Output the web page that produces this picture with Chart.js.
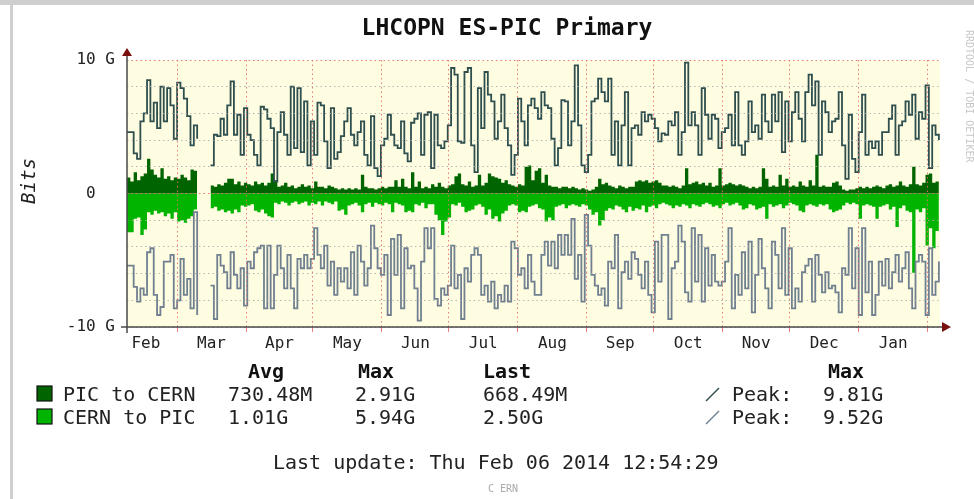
<!DOCTYPE html>
<html>
<head>
<meta charset="utf-8">
<script src="https://cdn.jsdelivr.net/npm/chart.js@4.4.0/dist/chart.umd.min.js"></script>
<style>
  html, body { margin: 0; padding: 0; background: #fff; }
  canvas { display: block; }
</style>
</head>
<body>
<canvas id="rrdChart" width="974" height="499"></canvas>
<script>
// Sampling step of the series, in days from Feb 6 2013 12:54
var STEP = 1.5;

// Month labels of the x axis and the month starts they belong to
var monthLabels = ['Feb', 'Mar', 'Apr', 'May', 'Jun', 'Jul', 'Aug', 'Sep', 'Oct', 'Nov', 'Dec', 'Jan'];
var monthStarts = ['2013-02-01', '2013-03-01', '2013-04-01', '2013-05-01', '2013-06-01', '2013-07-01',
                   '2013-08-01', '2013-09-01', '2013-10-01', '2013-11-01', '2013-12-01', '2014-01-01', '2014-02-01'];

// y tick labels (in G)
var yTickLabels = { '10': '10 G', '0': '0  ', '-10': '-10 G' };

// PIC to CERN, peak (G)
var picPeak = [
  4.6, 4.6, 3.0, 2.6, 5.4, 6.0, 8.5, 5.4, 6.8, 4.9,
  8.0, 5.4, 7.9, 6.6, 4.1, 8.3, 7.9, 7.1, 5.8, 3.6,
  5.1, 4.1, null, 2.95, null, 2.1, 4.4, 4.3, 5.6, 4.4,
  6.6, 8.4, 4.4, 5.9, 2.9, 6.4, 4.4, 4.0, 2.9, 2.1,
  6.5, 6.3, 5.6, 4.9, 0.9, 4.6, 6.1, 4.4, 2.9, 8.0,
  3.4, 7.9, 3.1, 6.9, 2.1, 5.4, 2.9, 6.8, 6.6, 3.9,
  1.9, 6.4, 2.6,
  3.1, 4.3, 5.4, 6.4, 4.4, 3.6, 4.6, 5.4, 2.9, 2.1,
  5.8, 1.9, 1.3, 3.6, 4.1, 5.9, 4.4, 3.6, 3.4, 5.4,
  3.0, 2.4, 5.3, 5.6, 6.0, 2.9, 5.9, 6.1, 1.9, 5.9,
  3.6, 3.4, 3.9, 5.1, 9.4, 8.9, 3.9, 3.8, 9.1, 9.4,
  3.6, 1.6, 7.9, 4.9, 9.1, 7.4, 6.9, 4.1, 5.4, 7.4,
  4.9, 3.6, 1.4, 2.9, 7.1, 5.4, 3.6, 6.6, 7.1, 6.4,
  5.6, 7.6, 6.6, 6.4, 4.1, 2.1, 3.4, 7.0, 6.9, 3.6,
  5.4, 9.6, 5.1, 2.1, 1.6, 2.9, 6.9, 7.1, 8.6, 7.6,
  6.9, 8.6, 2.9, 5.4, 2.1, 5.1, 7.6, 2.1, 4.9, 5.1,
  4.4, 6.1, 5.4, 5.9, 5.6, 4.9, 3.9, 4.5, 4.4, 5.4,
  5.1, 6.1, 2.9, 4.6, 9.81, 5.1, 6.1, 5.1, 2.9, 7.9,
  5.9, 4.1, 5.9, 5.6, 3.4, 4.6, 4.9, 5.9, 3.6, 7.6, 3.6,
  2.9, 3.9, 6.9, 4.6, 5.1, 4.1, 7.4, 5.4, 4.6, 7.4,
  5.4, 7.6, 3.1, 6.9, 3.9, 6.1, 7.6, 5.6, 3.9, 7.6,
  8.9, 6.6, 8.4, 2.9, 6.9, 6.1, 4.6, 5.4, 5.6, 7.6,
  3.6, 1.1, 5.9, 2.6, 1.6, 4.6, 7.4, 2.9, 3.9, 3.4,
  3.9, 2.9, 4.6, 4.6, 5.6, 6.6, 2.9, 5.1, 5.4, 6.9,
  5.9, 7.4, 4.1, 6.1, 5.6, 8.1, 1.9, 5.1, 4.4, 4.0
];

// CERN to PIC, peak (G, drawn below zero)
var cernPeak = [
  -5.4, -5.4, -7.0, -8.1, -7.1, -7.6, -4.4, -4.1, -7.6, -9.1,
  -8.5, -5.1, -5.1, -4.6, -8.6, -8.0, -4.9, -7.6, -6.4, -8.6,
  -1.4, -9.1, null, -4.7, null, -6.9, -9.4, -4.6, -5.4, -5.9,
  -7.1, -4.4, -6.1, -7.1, -5.6, -8.4, -5.1, -5.6, -4.4, -4.1,
  -3.9, -8.6, -3.9, -8.6, -6.1, -3.9, -5.6, -7.1, -4.6, -7.1,
  -8.6, -4.9, -5.6, -4.6, -5.6, -4.9, -2.6, -4.6, -5.6, -3.9,
  -6.9, -5.1, -7.6,
  -5.6, -6.6, -5.6, -7.1, -4.4, -7.6, -3.9, -5.1, -6.9, -5.6,
  -2.4, -4.1, -5.6, -6.1, -4.6, -9.1, -3.4, -6.1, -3.1, -8.6,
  -4.1, -5.6, -5.4, -7.1, -9.52, -5.1, -2.6, -4.1, -2.6, -7.9,
  -8.4, -7.1, -7.6, -6.9, -3.9, -7.1, -6.1, -9.4, -5.6, -6.6,
  -4.6, -4.1, -4.6, -7.6, -6.9, -8.1, -6.6, -8.6, -7.6, -8.1,
  -6.9, -8.1, -3.6, -4.1, -6.1, -5.6, -7.1, -4.6, -6.6, -7.6,
  -7.6, -4.6, -3.6, -5.4, -3.6, -5.6, -3.1, -4.6, -3.1, -4.6,
  -1.9, -6.4, -4.6, -8.1, -1.6, -3.9, -6.1, -6.9, -7.6, -7.1,
  -8.4, -5.1, -5.6, -3.1, -8.6, -5.9, -5.1, -6.4, -4.4, -4.9,
  -6.1, -7.1, -5.1, -7.6, -8.9, -3.6, -6.6, -3.1, -3.1, -9.4,
  -5.6, -5.1, -2.4, -3.6, -7.4, -8.1, -2.6, -6.6, -3.1, -8.1,
  -4.1, -6.9, -4.6, -6.6, -6.9, -6.6, -5.1, -2.6, -8.6, -6.1, -7.6,
  -4.4, -7.1, -3.6, -8.9, -6.1, -3.4, -5.6, -7.1, -8.6, -3.6,
  -4.6, -7.1, -2.6, -7.6, -4.1, -8.6, -7.1, -8.1, -5.9, -5.4,
  -4.9, -8.1, -4.6, -6.1, -7.4, -5.9, -7.1, -6.9, -7.4, -8.9,
  -5.6, -6.1, -2.6, -7.1, -4.1, -9.1, -2.6, -7.4, -5.1, -9.1,
  -7.6, -5.1, -6.9, -4.9, -7.1, -5.9, -4.6, -6.6, -5.6, -4.4,
  -7.1, -8.6, -5.1, -4.6, -5.1, -9.1, -4.1, -7.6, -6.6, -5.1
];

// PIC to CERN, average traffic (G)
var picAvg = [
  1.2, 0.9, 1.6, 1.0, 1.3, 1.5, 2.6, 1.8, 1.4, 1.2,
  1.9, 1.1, 1.3, 1.0, 1.2, 1.1, 1.4, 1.2, 1.0, 1.8,
  1.7, 0.4, null, 0.8, null, 0.6, 0.5, 0.7, 0.6, 0.8,
  1.1, 1.1, 0.7, 0.9, 0.6, 0.8, 0.7, 0.6, 0.9, 0.7,
  0.8, 0.6, 0.8, 1.5, 1.0, 0.5, 0.6, 0.8, 0.5, 0.6,
  0.4, 0.5, 0.7, 0.5, 0.6, 0.4, 0.9, 0.5, 0.5, 0.4,
  0.6, 0.5, 0.4,
  0.3, 0.4, 0.3, 0.4, 0.3, 0.4, 0.3, 1.4, 0.5, 0.4,
  0.4, 0.3, 0.4, 0.5, 0.4, 0.5, 0.5, 1.0, 0.5, 1.1,
  0.5, 0.4, 1.6, 0.5, 0.9, 0.4, 0.5, 0.4, 0.7, 0.5,
  0.8, 0.5, 0.4, 0.6, 0.7, 1.3, 1.5, 0.7, 0.6, 0.9,
  0.5, 0.6, 1.4, 0.6, 0.8, 1.5, 1.3, 1.2, 1.1, 0.8,
  1.0, 0.7, 0.6, 0.5, 0.7, 0.6, 2.0, 2.1, 1.0, 1.7,
  1.9, 0.8, 1.4, 0.6, 0.5, 0.5, 0.4, 0.5, 0.5, 0.4,
  0.5, 0.4, 0.3, 0.4, 0.3, 0.2, 0.3, 0.5, 1.1, 0.7,
  0.8, 0.6, 0.5, 0.4, 0.6, 0.5, 0.4, 0.5, 0.5, 0.9,
  1.0, 0.9, 1.0, 0.8, 0.9, 1.0, 0.8, 0.6, 0.6, 0.5,
  0.6, 0.5, 0.4, 0.6, 1.9, 0.7, 0.8, 0.9, 0.7, 0.8,
  0.6, 0.8, 0.5, 0.6, 1.9, 0.6, 0.7, 0.8, 0.7, 0.6, 0.7,
  0.6, 0.5, 0.4, 0.5, 0.4, 0.5, 1.9, 1.1, 0.5, 0.6,
  0.5, 1.4, 0.6, 1.1, 0.5, 0.6, 0.5, 0.9, 0.6, 0.5,
  1.0, 0.6, 2.91, 0.5, 0.6, 0.5, 0.5, 0.8, 0.9, 0.6,
  0.3, 0.2, 0.3, 0.3, 0.4, 0.5, 0.4, 0.5, 0.4, 0.5,
  0.6, 0.5, 0.4, 0.6, 0.7, 0.5, 0.6, 0.9, 0.6, 0.5,
  0.7, 2.0, 0.7, 0.6, 0.8, 1.4, 1.5, 0.8, 0.9, 0.67
];

// CERN to PIC, average traffic (G, drawn below zero)
var cernAvg = [
  -2.9, -2.9, -1.9, -1.8, -3.1, -2.7, -1.4, -1.6, -1.3, -1.5,
  -1.4, -1.7, -1.5, -1.9, -1.4, -2.1, -2.0, -2.2, -1.9, -1.7,
  -1.2, -0.9, null, -0.6, null, -1.1, -1.0, -1.3, -1.2, -1.4,
  -1.3, -1.5, -1.2, -1.4, -0.9, -1.0, -0.9, -0.8, -1.3, -1.4,
  -1.2, -1.5, -1.7, -1.8, -0.7, -0.8, -0.6, -0.7, -0.9, -0.7,
  -0.6, -0.8, -0.7, -0.6, -0.9, -0.7, -0.8, -0.6, -0.9, -0.6,
  -0.7, -0.8, -0.6,
  -1.3, -1.2, -1.6, -0.9, -0.8, -0.7, -0.9, -1.4, -0.8, -0.7,
  -1.0, -0.7, -0.8, -0.9, -0.7, -0.8, -1.4, -0.7, -0.8, -0.9,
  -1.4, -1.3, -1.4, -0.8, -0.9, -0.7, -1.1, -0.8, -0.8, -1.6,
  -2.0, -3.1, -2.1, -1.8, -0.8, -0.9, -0.7, -1.0, -1.4, -1.3,
  -1.2, -0.9, -0.8, -1.0, -1.6, -1.2, -1.9, -1.7, -2.1, -1.5,
  -1.3, -0.9, -0.8, -0.9, -1.4, -1.3, -1.4, -1.0, -0.9, -0.8,
  -1.1, -1.2, -2.1, -1.8, -2.0, -1.0, -0.9, -0.8, -1.1, -0.9,
  -0.8, -0.9, -1.0, -0.8, -0.9, -1.2, -1.6, -1.4, -2.4, -2.0,
  -1.3, -1.1, -1.2, -0.9, -1.0, -1.2, -1.4, -1.0, -1.3, -1.1,
  -1.2, -0.9, -1.4, -1.0, -0.9, -1.1, -0.8, -0.7, -0.8, -0.9,
  -1.1, -0.9, -1.0, -0.8, -0.9, -1.1, -0.8, -0.9, -1.0, -0.8,
  -0.7, -0.8, -1.0, -0.9, -1.1, -0.8, -0.7, -0.9, -0.8, -0.7, -0.9,
  -1.2, -1.1, -0.8, -0.9, -1.2, -1.1, -1.0, -1.9, -0.8, -1.0,
  -0.9, -0.8, -1.1, -0.9, -0.7, -0.8, -0.9, -1.3, -1.4, -0.9,
  -0.8, -0.9, -1.0, -0.8, -0.9, -0.8, -1.2, -1.4, -1.3, -1.2,
  -0.9, -0.7, -0.8, -0.7, -0.8, -1.9, -0.9, -0.8, -0.9, -1.0,
  -1.9, -1.0, -0.9, -0.8, -1.2, -1.0, -2.5, -1.1, -0.9, -1.3,
  -1.4, -5.94, -1.2, -1.4, -1.1, -3.9, -2.6, -4.1, -2.8, -2.5
];

// Legend rows
var legendNames = ['PIC to CERN', 'CERN to PIC'];
var legendAvg = ['730.48M', '1.01G'];
var legendMax = ['2.91G', '5.94G'];
var legendLast = ['668.49M', '2.50G'];
var legendPeak = ['9.81G', '9.52G'];

var colPicAvg = '#006400';
var colCernAvg = '#00b400';
var colPicPeak = '#2f4f4f';
var colCernPeak = '#708090';

function toPoints(arr) {
  return arr.map(function (v, i) { return { x: i * STEP, y: v }; });
}

var startTime = Date.UTC(2013, 1, 6, 12, 54);
function dayOf(s) {
  var p = s.split('-');
  return (Date.UTC(+p[0], +p[1] - 1, +p[2]) - startTime) / 86400000;
}
var boundaryDays = monthStarts.slice(1).map(dayOf);
var labelDays = monthLabels.map(function (m, i) {
  return (dayOf(monthStarts[i]) + dayOf(monthStarts[i + 1])) / 2;
});

var MONO = '"DejaVu Sans Mono", monospace';

// Frame, plot background, axes with arrows and all the text around the graph
var rrdDecor = {
  id: 'rrdDecor',
  beforeDraw: function (chart) {
    var c = chart.ctx, a = chart.chartArea;
    c.save();
    c.fillStyle = '#ffffff';
    c.fillRect(0, 0, chart.width, chart.height);
    c.fillStyle = '#cfcfcf';
    c.fillRect(0, 0, chart.width, 5);
    c.fillRect(10, 0, 3, chart.height);
    c.fillStyle = '#fffde1';
    c.fillRect(a.left, a.top, a.right - a.left, a.bottom - a.top);
    c.restore();
  },
  afterDraw: function (chart) {
    var c = chart.ctx, a = chart.chartArea;
    c.save();
    // axes
    c.strokeStyle = '#4a4a4a';
    c.lineWidth = 1.5;
    c.beginPath();
    c.moveTo(a.left, a.bottom + 6);
    c.lineTo(a.left, a.top - 6);
    c.moveTo(a.left - 6, a.bottom);
    c.lineTo(a.right + 3, a.bottom);
    c.stroke();
    c.fillStyle = '#7a1010';
    c.beginPath();
    c.moveTo(a.left - 5, a.top - 4);
    c.lineTo(a.left + 5, a.top - 4);
    c.lineTo(a.left, a.top - 12);
    c.closePath();
    c.fill();
    c.beginPath();
    c.moveTo(a.right + 2, a.bottom - 5);
    c.lineTo(a.right + 2, a.bottom + 5);
    c.lineTo(a.right + 11, a.bottom);
    c.closePath();
    c.fill();

    // title
    c.fillStyle = '#111';
    c.textBaseline = 'alphabetic';
    c.textAlign = 'center';
    c.font = 'bold 23px ' + MONO;
    c.fillText('LHCOPN ES-PIC Primary', 507, 35);

    // y axis title
    c.save();
    c.translate(35, 181);
    c.rotate(-Math.PI / 2);
    c.font = 'oblique 19px ' + MONO;
    c.fillStyle = '#222';
    c.fillText('Bits', 0, 0);
    c.restore();

    // legend
    c.textAlign = 'left';
    c.font = 'bold 20px ' + MONO;
    c.fillStyle = '#111';
    c.fillText('Avg', 248, 378);
    c.fillText('Max', 358, 378);
    c.fillText('Last', 483, 378);
    c.fillText('Max', 828, 378);

    var rowY = [401, 424];
    var sw = [colPicAvg, colCernAvg];
    var pk = [colPicPeak, colCernPeak];
    c.font = '20px ' + MONO;
    for (var r = 0; r < 2; r++) {
      var y = rowY[r];
      c.fillStyle = sw[r];
      c.fillRect(37, y - 15, 15, 15);
      c.strokeStyle = '#111';
      c.lineWidth = 1.2;
      c.strokeRect(37, y - 15, 15, 15);
      c.fillStyle = '#222';
      c.fillText(legendNames[r], 63, y);
      c.fillText(legendAvg[r], 228, y);
      c.fillText(legendMax[r], 355, y);
      c.fillText(legendLast[r], 483, y);
      c.strokeStyle = pk[r];
      c.lineWidth = 1.5;
      c.beginPath();
      c.moveTo(706, y);
      c.lineTo(719, y - 13);
      c.stroke();
      c.fillText('Peak:', 732, y);
      c.fillText(legendPeak[r], 823, y);
    }

    c.fillText('Last update: Thu Feb 06 2014 12:54:29', 273, 469);
    c.font = '10px ' + MONO;
    c.fillStyle = '#aaa';
    c.fillText('C ERN', 488, 492);

    // side watermark
    c.save();
    c.translate(966, 30);
    c.rotate(Math.PI / 2);
    c.font = '10px ' + MONO;
    c.fillStyle = '#c8c8c8';
    c.fillText('RRDTOOL / TOBI OETIKER', 0, 0);
    c.restore();
    c.restore();
  }
};

var ctx = document.getElementById('rrdChart').getContext('2d');

var data = {
  datasets: [
    {
      label: 'PIC to CERN peak',
      data: toPoints(picPeak),
      borderColor: colPicPeak,
      borderWidth: 1.8,
      pointRadius: 0,
      stepped: 'before',
      fill: false,
      spanGaps: false
    },
    {
      label: 'CERN to PIC peak',
      data: toPoints(cernPeak),
      borderColor: colCernPeak,
      borderWidth: 1.8,
      pointRadius: 0,
      stepped: 'before',
      fill: false,
      spanGaps: false
    },
    {
      label: 'PIC to CERN',
      data: toPoints(picAvg),
      borderWidth: 0,
      borderColor: colPicAvg,
      backgroundColor: colPicAvg,
      pointRadius: 0,
      stepped: 'before',
      fill: 'origin',
      spanGaps: false
    },
    {
      label: 'CERN to PIC',
      data: toPoints(cernAvg),
      borderWidth: 0,
      borderColor: colCernAvg,
      backgroundColor: colCernAvg,
      pointRadius: 0,
      stepped: 'before',
      fill: 'origin',
      spanGaps: false
    }
  ]
};

var options = {
  responsive: false,
  animation: false,
  layout: {
    padding: { left: 0, right: 34, top: 60, bottom: 142 }
  },
  plugins: {
    legend: { display: false },
    title: { display: false },
    tooltip: { enabled: false }
  },
  scales: {
    x: {
      type: 'linear',
      min: 0,
      max: 365,
      afterBuildTicks: function (scale) {
        var t = boundaryDays.concat(labelDays).sort(function (p, q) { return p - q; });
        scale.ticks = t.map(function (v) { return { value: v }; });
      },
      afterFit: function (scale) {
        scale.height = 30;
        scale.paddingLeft = 0;
        scale.paddingRight = 0;
      },
      ticks: {
        autoSkip: false,
        maxRotation: 0,
        padding: 2,
        color: '#222',
        font: { family: 'DejaVu Sans Mono', size: 16 },
        callback: function (value) {
          var i = labelDays.indexOf(value);
          return i >= 0 ? monthLabels[i] : '';
        }
      },
      grid: {
        z: 1,
        lineWidth: 1,
        tickLength: 5,
        color: function (c) {
          return c.tick && boundaryDays.indexOf(c.tick.value) >= 0 ? 'rgba(228,110,110,0.9)' : 'rgba(0,0,0,0)';
        },
        tickColor: function (c) {
          return c.tick && boundaryDays.indexOf(c.tick.value) >= 0 ? 'rgba(228,110,110,0.9)' : 'rgba(0,0,0,0)';
        }
      },
      border: { display: false, dash: [1.5, 3] }
    },
    y: {
      min: -10,
      max: 10,
      afterFit: function (scale) {
        scale.width = 127;
        scale.paddingTop = 0;
        scale.paddingBottom = 0;
      },
      ticks: {
        stepSize: 2,
        padding: 12,
        color: '#222',
        font: { family: 'DejaVu Sans Mono', size: 16 },
        callback: function (value) {
          return yTickLabels[String(value)] || '';
        }
      },
      grid: {
        z: 1,
        drawTicks: false,
        color: function (c) {
          var v = c.tick ? c.tick.value : 1;
          return (v === 10 || v === 0) ? 'rgba(228,110,110,0.9)' : 'rgba(170,170,170,0.85)';
        }
      },
      border: { display: false, dash: [1.5, 3] }
    }
  }
};

var rrdChart = new Chart(ctx, {
  type: 'line',
  data: data,
  options: options,
  plugins: [rrdDecor]
});
</script>
</body>
</html>
